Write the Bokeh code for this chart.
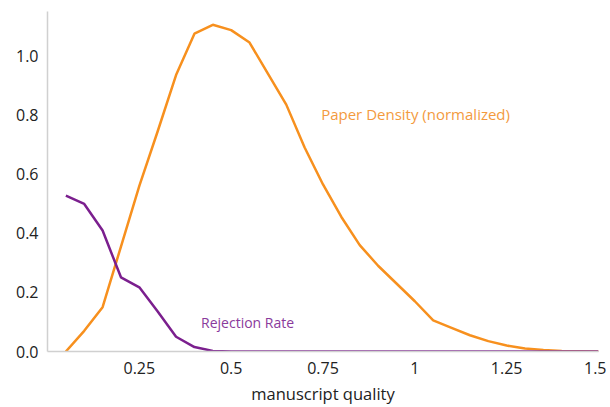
from bokeh.plotting import figure
from bokeh.models import FixedTicker, Range1d, Label
from bokeh.embed import file_html
from bokeh.resources import INLINE

quality = [0.05, 0.10, 0.15, 0.20, 0.25, 0.30, 0.35, 0.40, 0.45, 0.50,
           0.55, 0.60, 0.65, 0.70, 0.75, 0.80, 0.85, 0.90, 0.95, 1.00,
           1.05, 1.10, 1.15, 1.20, 1.25, 1.30, 1.35, 1.40, 1.45, 1.50]
density = [0.0, 0.07, 0.15, 0.355, 0.56, 0.745, 0.935, 1.075, 1.105, 1.087,
           1.045, 0.94, 0.835, 0.69, 0.565, 0.455, 0.36, 0.29, 0.23, 0.17,
           0.105, 0.08, 0.055, 0.035, 0.02, 0.01, 0.005, 0.002, 0.001, 0.0]
rejection = [0.527, 0.499, 0.409, 0.251, 0.217, 0.135, 0.05, 0.015, 0.002, 0.0,
             0.0, 0.0, 0.0, 0.0, 0.0, 0.0, 0.0, 0.0, 0.0, 0.0,
             0.0, 0.0, 0.0, 0.0, 0.0, 0.0, 0.0, 0.0, 0.0, 0.0]
x_ticks = [0.25, 0.5, 0.75, 1.0, 1.25, 1.5]
x_tick_labels = ["0.25", "0.5", "0.75", "1", "1.25", "1.5"]
y_ticks = [0.0, 0.2, 0.4, 0.6, 0.8, 1.0]
y_tick_labels = ["0.0", "0.2", "0.4", "0.6", "0.8", "1.0"]

ORANGE = "#F7901E"
PURPLE = "#7B1F8E"
FONT = "Open Sans"

p = figure(width=606, height=407, output_backend="svg", toolbar_location=None,
           x_range=Range1d(0.0, 1.5), y_range=Range1d(0.0, 1.15),
           min_border_left=47, min_border_right=8, min_border_top=11, min_border_bottom=56)
p.outline_line_color = None
p.grid.visible = False

p.line(quality, density, line_color=ORANGE, line_width=2.5)
p.line(quality, rejection, line_color=PURPLE, line_width=2.5)

p.add_layout(Label(x=0.745, y=0.804, text="Paper Density (normalized)", text_color="#F39A3E",
                   text_font=FONT, text_font_size="15px", text_baseline="middle"))
p.add_layout(Label(x=0.418, y=0.098, text="Rejection Rate", text_color="#8A3A9C",
                   text_font=FONT, text_font_size="14px", text_baseline="middle"))

for ax in (p.xaxis[0], p.yaxis[0]):
    ax.axis_line_color = "#d0d0d0"
    ax.axis_line_width = 1.5
    ax.major_tick_line_color = None
    ax.minor_tick_line_color = None
    ax.major_label_text_font = FONT
    ax.major_label_text_font_size = "16px"
    ax.major_label_text_color = "#222222"

p.xaxis.ticker = FixedTicker(ticks=x_ticks)
p.xaxis.major_label_overrides = dict(zip(x_ticks, x_tick_labels))
p.yaxis.ticker = FixedTicker(ticks=y_ticks)
p.yaxis.major_label_overrides = dict(zip(y_ticks, y_tick_labels))
p.xaxis.major_label_standoff = 4
p.yaxis.major_label_standoff = 3
p.xaxis.axis_label = "manuscript quality"
p.xaxis.axis_label_text_font = FONT
p.xaxis.axis_label_text_font_size = "16.5px"
p.xaxis.axis_label_text_font_style = "normal"
p.xaxis.axis_label_text_color = "#222222"
p.xaxis.axis_label_standoff = 5

open("out.html", "w").write(file_html(p, INLINE))
